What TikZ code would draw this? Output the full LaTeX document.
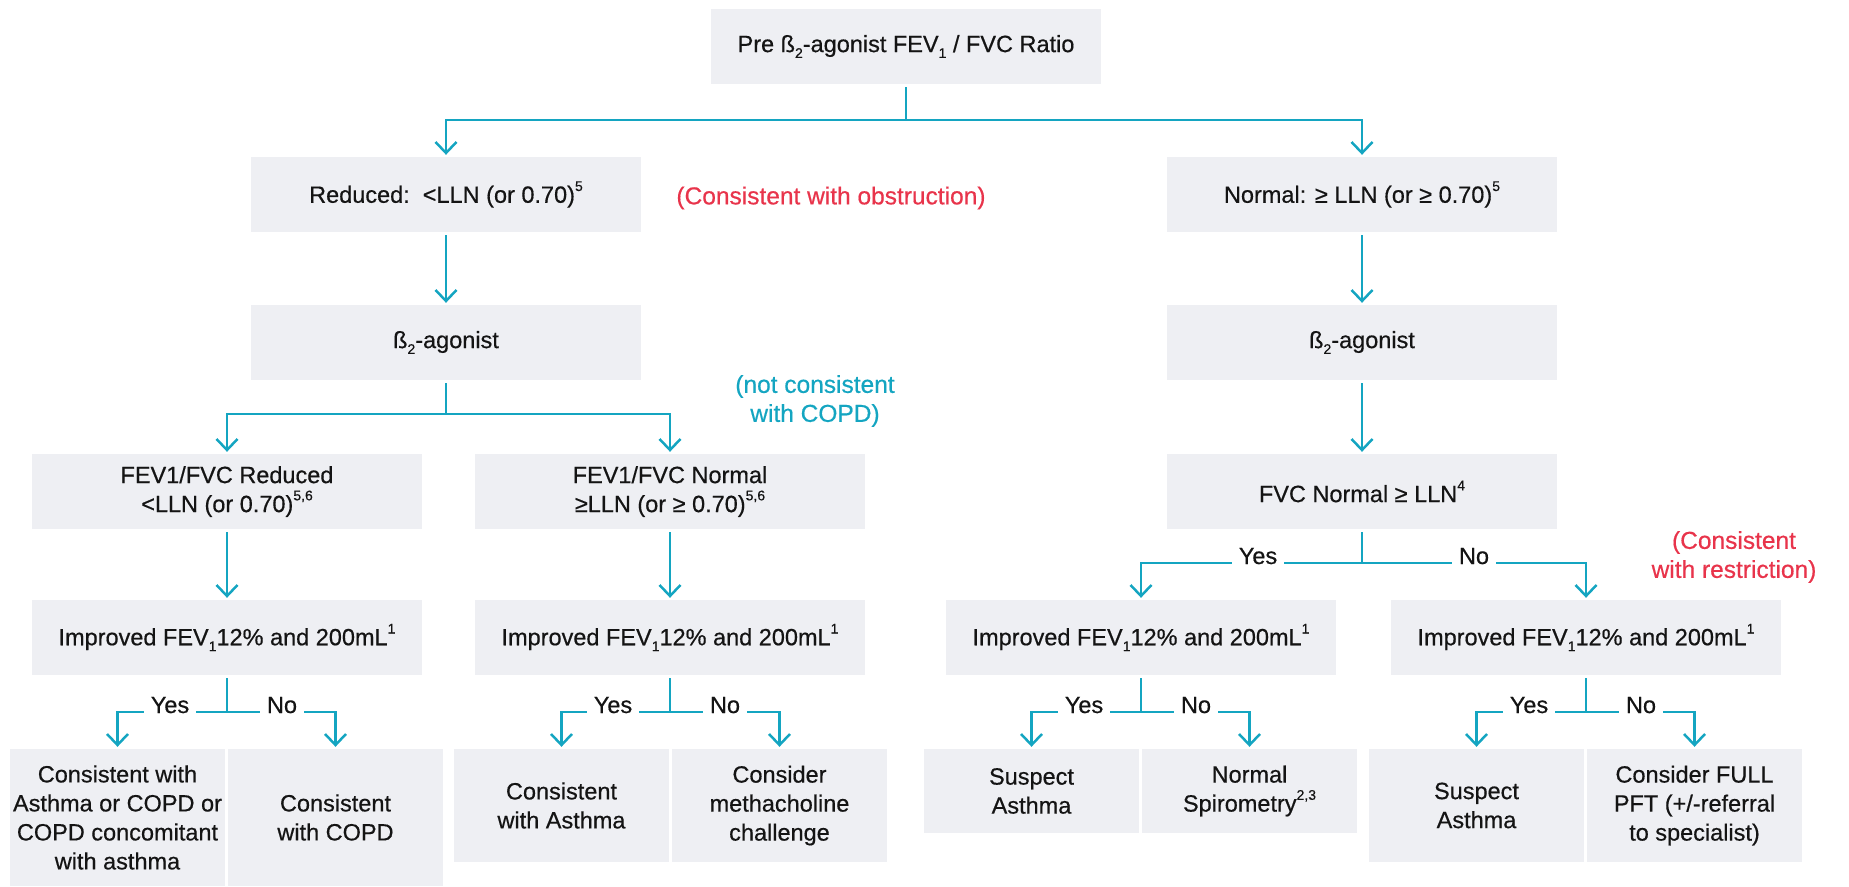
\documentclass[tikz,border=0pt]{standalone}
\usepackage{fontspec}
\setmainfont{Liberation Sans}[FakeBold=0.5]
\usetikzlibrary{arrows.meta}
\definecolor{tealc}{HTML}{14A5C1}
\definecolor{redc}{HTML}{E8344B}
\definecolor{boxg}{HTML}{EEEFF3}
\definecolor{ink}{HTML}{141414}
\newcommand\mainfs{\fontsize{23.5}{29}\selectfont}
\newcommand\notefs{\fontsize{24.5}{29}\selectfont}
\newcommand\sups[1]{\raisebox{0.5em}{\fontsize{14}{14}\selectfont #1}}
\newcommand\subs[1]{\raisebox{-0.25em}{\fontsize{14}{14}\selectfont #1}}
\begin{document}
\begin{tikzpicture}[x=1pt,y=-1pt,
  box/.style={fill=boxg, draw=none, minimum width=390pt, minimum height=75pt, inner sep=0pt, align=center, text=ink, font=\mainfs},
  sbox/.style={fill=boxg, draw=none, minimum width=215pt, inner sep=0pt, align=center, text=ink, font=\mainfs},
  conn/.style={draw=tealc, line width=2.5pt},
  arr/.style={conn, -{Straight Barb[length=11pt,width=21pt]}, shorten >=2pt, shorten <=3pt},
  lbl/.style={fill=white, inner xsep=7pt, inner ysep=1pt, text depth=4pt, anchor=base, text=ink, font=\mainfs},
  note/.style={align=center, font=\notefs}
]
\useasboundingbox (0,0) rectangle (1849,886);

% main boxes
\node[box] (pre) at (906,46.5) {Pre ß\subs{2}-agonist FEV\subs{1} / FVC Ratio};
\node[box] (red) at (446,194.5) {Reduced:\ \ <LLN (or 0.70)\sups{5}};
\node[box] (nor) at (1362,194.5) {Normal: ≥ LLN (or ≥ 0.70)\sups{5}};
\node[box] (bl) at (446,342.5) {ß\subs{2}-agonist};
\node[box] (br) at (1362,342.5) {ß\subs{2}-agonist};
\node[box] (fr) at (227,491.5) {FEV1/FVC Reduced\\<LLN (or 0.70)\sups{5,6}};
\node[box] (fn) at (670,491.5) {FEV1/FVC Normal\\≥LLN (or ≥ 0.70)\sups{5,6}};
\node[box] (fvc) at (1362,491.5) {FVC Normal ≥ LLN\sups{4}};
\node[box] (i1) at (227,637.5) {Improved FEV\subs{1}12\% and 200mL\sups{1}};
\node[box] (i2) at (670,637.5) {Improved FEV\subs{1}12\% and 200mL\sups{1}};
\node[box] (i3) at (1141,637.5) {Improved FEV\subs{1}12\% and 200mL\sups{1}};
\node[box] (i4) at (1586,637.5) {Improved FEV\subs{1}12\% and 200mL\sups{1}};

% bottom boxes
\node[sbox, minimum height=137pt] (c1) at (117.5,817.5) {Consistent with\\Asthma or COPD or\\COPD concomitant\\with asthma};
\node[sbox, minimum height=137pt] (c2) at (335.5,817.5) {Consistent\\with COPD};
\node[sbox, minimum height=113pt] (c3) at (561.5,805.5) {Consistent\\with Asthma};
\node[sbox, minimum height=113pt] (c4) at (779.5,805.5) {Consider\\methacholine\\challenge};
\node[sbox, minimum height=84pt] (c5) at (1031.5,791) {Suspect\\Asthma};
\node[sbox, minimum height=84pt] (c6) at (1249.5,791) {Normal\\Spirometry\sups{2,3}};
\node[sbox, minimum height=113pt] (c7) at (1476.5,805.5) {Suspect\\Asthma};
\node[sbox, minimum height=113pt] (c8) at (1694.5,805.5) {Consider FULL\\PFT (+/-referral\\to specialist)};

% notes
\node[note, text=redc] (obs) at (831,198) {(Consistent with obstruction)};
\node[note, text=redc] (restr) at (1734,557) {(Consistent\\with restriction)};
\node[note, text=tealc] (notc) at (815,401) {(not consistent\\with COPD)};

% connectors
\draw[arr] (pre.south) -- ++(0,36) -| (red.north);
\draw[arr] (pre.south) -- ++(0,36) -| (nor.north);
\draw[arr] (red) -- (bl);
\draw[arr] (nor) -- (br);
\draw[arr] (br) -- (fvc);
\draw[arr] (bl.south) -- ++(0,34) -| (fr.north);
\draw[arr] (bl.south) -- ++(0,34) -| (fn.north);
\draw[arr] (fr) -- (i1);
\draw[arr] (fn) -- (i2);
\draw[arr] (fvc.south) -- ++(0,34) -| (i3.north);
\draw[arr] (fvc.south) -- ++(0,34) -| (i4.north);
\draw[arr] (i1.south) -- ++(0,37) -| (c1.north);
\draw[arr] (i1.south) -- ++(0,37) -| (c2.north);
\draw[arr] (i2.south) -- ++(0,37) -| (c3.north);
\draw[arr] (i2.south) -- ++(0,37) -| (c4.north);
\draw[arr] (i3.south) -- ++(0,37) -| (c5.north);
\draw[arr] (i3.south) -- ++(0,37) -| (c6.north);
\draw[arr] (i4.south) -- ++(0,37) -| (c7.north);
\draw[arr] (i4.south) -- ++(0,37) -| (c8.north);

% yes / no labels
\node[lbl] (y0) at (1258,564) {Yes};
\node[lbl] (n0) at (1474,564) {No};
\node[lbl] (y1) at (170,713) {Yes};
\node[lbl] (n1) at (282,713) {No};
\node[lbl] (y2) at (613,713) {Yes};
\node[lbl] (n2) at (725,713) {No};
\node[lbl] (y3) at (1084,713) {Yes};
\node[lbl] (n3) at (1196,713) {No};
\node[lbl] (y4) at (1529,713) {Yes};
\node[lbl] (n4) at (1641,713) {No};
\end{tikzpicture}
\end{document}
